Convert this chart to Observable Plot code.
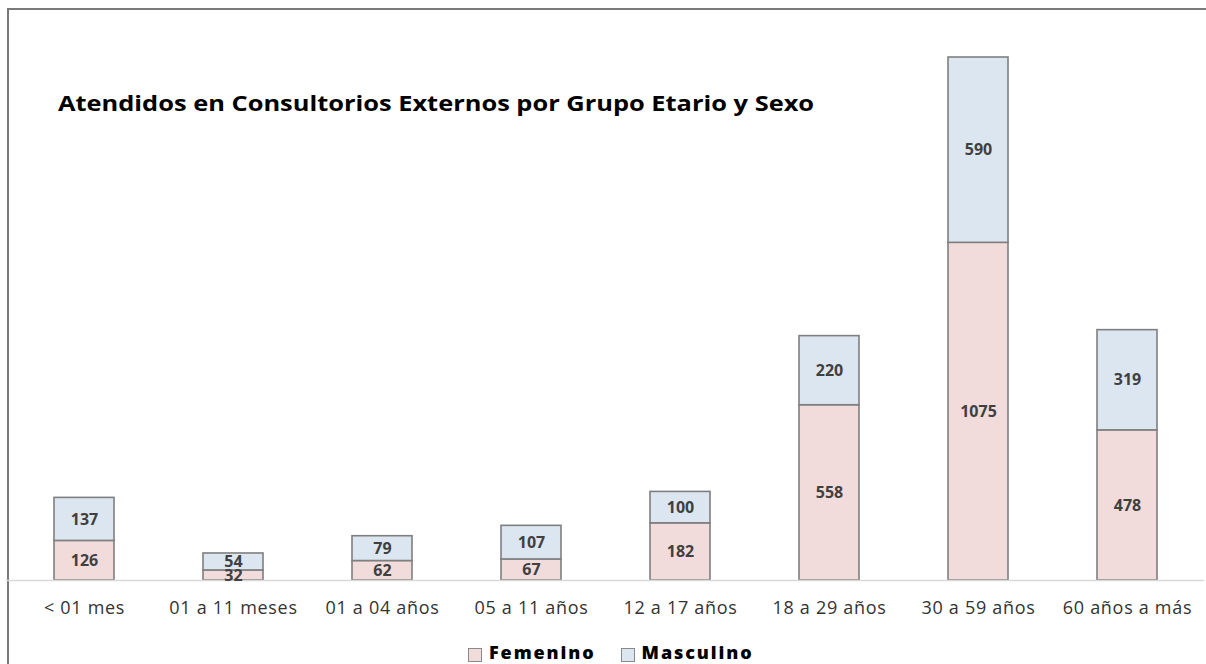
<!DOCTYPE html>
<html><head><meta charset="utf-8">
<script src="https://cdn.jsdelivr.net/npm/d3@7"></script>
<script src="https://cdn.jsdelivr.net/npm/@observablehq/plot@0.6"></script>
<style>
body{margin:0;background:#fff;font-family:"Open Sans",sans-serif;}
#wrap{position:relative;width:1206px;height:664px;overflow:hidden;background:#fff;}
#frame{position:absolute;left:7px;top:8px;width:1300px;height:800px;border-top:2px solid #7a7a7a;border-left:2px solid #7a7a7a;}
#title{position:absolute;left:58px;top:93px;font-weight:bold;font-size:21px;line-height:1;color:#000;white-space:nowrap;transform:scaleX(1.21);transform-origin:0 0;}
#chart{position:absolute;left:0;top:0;}
#chart svg g[aria-label="x-axis tick label"] text{letter-spacing:0.7px;}
#legend{position:absolute;left:468px;top:643px;display:flex;gap:25px;font-weight:800;font-size:18px;line-height:1;color:#000;white-space:nowrap;letter-spacing:1.9px;}
#legend .item{position:relative;padding-left:21px;}
#legend .sw{position:absolute;left:0;top:5px;width:12px;height:12px;border:1px solid #8a8a8a;}
</style>
</head><body>
<div id="wrap">
  <div id="frame"></div>
  <div id="chart"></div>
  <div id="title">Atendidos en Consultorios Externos por Grupo Etario y Sexo</div>
  <div id="legend"></div>
</div>
<script>
const grupos = ["< 01 mes","01 a 11 meses","01 a 04 años","05 a 11 años","12 a 17 años","18 a 29 años","30 a 59 años","60 años a más"];
const femenino = [126, 32, 62, 67, 182, 558, 1075, 478];
const masculino = [137, 54, 79, 107, 100, 220, 590, 319];
const sexos = ["Femenino","Masculino"];
const colores = ["#f2dcdb","#dce6f1"];

const data = grupos.flatMap((g, i) => [
  {grupo: g, sexo: sexos[0], valor: femenino[i]},
  {grupo: g, sexo: sexos[1], valor: masculino[i]}
]);

const chart = Plot.plot({
  width: 1206,
  height: 664,
  marginTop: 57,
  marginBottom: 84,
  marginLeft: 6,
  marginRight: 2,
  style: {fontFamily: "'Open Sans', sans-serif", background: "transparent"},
  x: {domain: grupos, paddingInner: 0.6, paddingOuter: 0.3, label: null},
  y: {domain: [0, 1665], axis: null},
  color: {domain: sexos, range: colores},
  marks: [
    Plot.barY(data, {x: "grupo", y: "valor", fill: "sexo", order: sexos, stroke: "#7f7f7f", strokeWidth: 1.6}),
    Plot.ruleY([0], {stroke: "#d9d9d9", strokeWidth: 1.5}),
    Plot.text(data, Plot.stackY({x: "grupo", y: "valor", z: "sexo", order: sexos, text: d => String(d.valor), fill: "#404040", fontWeight: "bold", fontSize: 16})),
    Plot.axisX({tickSize: 0, tickPadding: 21, fontSize: 18, color: "#333333", label: null})
  ]
});
document.getElementById("chart").appendChild(chart);

const legend = document.getElementById("legend");
sexos.forEach((s, i) => {
  const item = document.createElement("span");
  item.className = "item";
  const sw = document.createElement("span");
  sw.className = "sw";
  sw.style.background = colores[i];
  item.appendChild(sw);
  item.appendChild(document.createTextNode(s));
  legend.appendChild(item);
});
</script>
</body></html>
